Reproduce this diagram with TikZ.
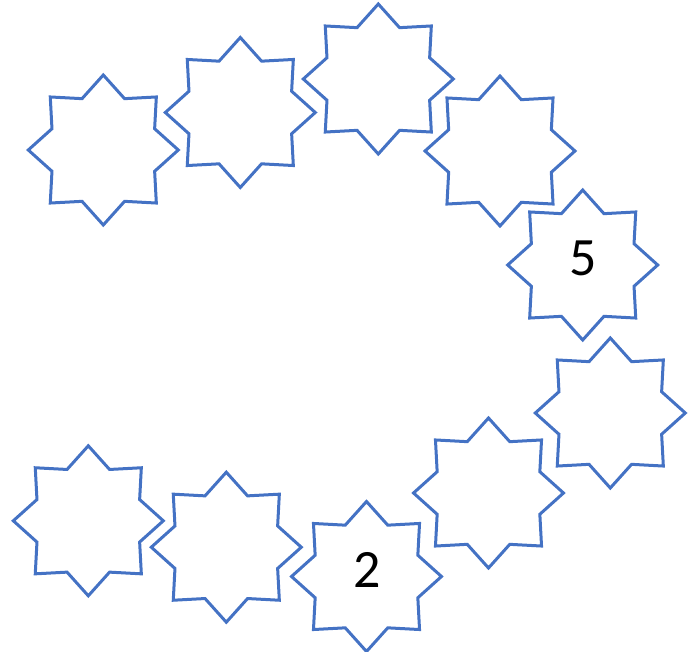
\documentclass[tikz,border=0pt]{standalone}
\usepackage{fontspec}
\setmainfont{Carlito}
\usetikzlibrary{shapes.geometric}
\definecolor{starblue}{HTML}{4472C4}
\begin{document}
\begin{tikzpicture}[x=1pt,y=-1pt,
  starbox/.style={star, star points=8, star point ratio=1.35, minimum size=150pt, inner sep=0pt, draw=starblue, line width=3pt},
  numlabel/.style={anchor=base, font=\fontsize{54}{60}\selectfont, text=black, inner sep=0pt}]
\useasboundingbox (0,0) rectangle (699,652);
\node[starbox] (s1) at (103.3,150) {};
\node[starbox] (s2) at (240.3,112.5) {};
\node[starbox] (s3) at (378.3,79) {};
\node[starbox] (s4) at (500,151) {};
\node[starbox] (s5) at (582.7,265) {};
\node[starbox] (s6) at (610.3,413) {};
\node[starbox] (s7) at (488.5,493) {};
\node[starbox] (s8) at (366.5,576.5) {};
\node[starbox] (s9) at (226.3,547.2) {};
\node[starbox] (s10) at (88.3,520.8) {};
\node[numlabel] (t5) at (582.7,276) {5};
\node[numlabel] (t2) at (366.8,587.7) {2};
\end{tikzpicture}
\end{document}
